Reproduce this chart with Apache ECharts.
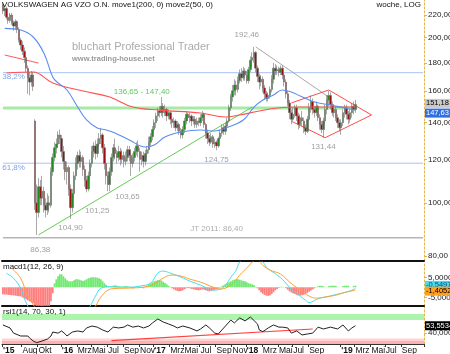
<!DOCTYPE html>
<html lang="de">
<head>
<meta charset="UTF-8">
<title>Volkswagen Vz - Wochenchart</title>
<script src="https://cdn.jsdelivr.net/npm/echarts@6.0.0/dist/echarts.min.js"></script>
<style>
  html, body { margin: 0; padding: 0; background: #fff; }
  #chart { width: 450px; height: 354px; }
</style>
</head>
<body>
<div id="chart"></div>
<script>
// Wochenkerzen ab Montag 18.05.2015
const startDay = Date.UTC(2015, 4, 18);
const weekCount = 237;
const monthNames = ['Jan','Feb','Mrz','Apr','Mai','Jun','Jul','Aug','Sep','Okt','Nov','Dez'];
const tickMonths = ['2015-05','2015-08','2015-10','2016-01','2016-03','2016-05','2016-07','2016-09','2016-11',
  '2017-01','2017-03','2017-05','2017-07','2017-09','2017-11','2018-01','2018-03','2018-05','2018-07','2018-09',
  '2019-01','2019-03','2019-05','2019-07','2019-09'];
const priceTicks = [80, 100, 120, 140, 160, 180, 200, 220];
const macdTicks = [-5, 5];
const rsiTicks = [40];

// [open, close, low, high]
const candles = [
[230,224,221,232],[224,226,219,229],[226,218,216,228],[218,215,212,221],[215,220,213,222],
[220,213,211,222],[213,210,206,215],[210,214,207,216],[214,207,204,215],[207,198,196,209],
[198,194,190,200],[194,189,186,197],[189,184,180,192],[184,176,173,186],[176,169,158,178],
[169,166,157,173],[166,171,163,174],[171,163,160,173],[141,100,97,142],[100,96,87.4,108],
[96,107,94,111],[107,102,99,110],[102,105,99,112],[105,99,96,107],[99,97,94,102],
[97,100,95,104],[100,99,96,103],[99,114,98,116],[114,121,112,123],[121,126,119,129],
[126,128,123,131],[128,133,126,135],[133,131,128,136],[131,124,121,133],[124,119,115,127],
[119,114,110,121],[114,116,108,119],[116,106,103,117],[106,98,93.5,108],[98,104,96,106],
[104,112,102,114],[112,118,110,121],[118,122,115,124],[122,119,116,125],[119,121,116,124],
[121,115,112,122],[115,110,107,117],[110,106,104.5,112],[106,112,105,114],[112,118,110,120],
[118,124,116,127],[124,127,121,129],[127,123,120,130],[123,128,121,131],[128,131,126,134],
[131,133,128,137],[133,126,123,134],[126,118,115,128],[118,112,108,120],[112,108,105,114],
[108,114,105,116],[114,121,112,123],[121,126,119,128],[126,123,120,131],[123,121,118,125],
[121,124,119,127],[124,120,117,126],[120,122,118,125],[122,119,116,124],[119,121,117,124],
[121,125,119,127],[125,122,119,127],[122,118,112,123],[118,121,116,123],[121,124,119,126],
[124,127,122,129],[127,124,121,130],[124,120,114,126],[120,122,117,124],[122,119,116,124],
[119,123,117,125],[123,125,121,127],[125,129,123,132],[129,132,127,134],[132,136,130,138],
[136,140,134,142],[140,144,137,146],[144,147,141,149],[147,146,143,150],[146,150,144,156],
[150,146,143,152],[146,148,144,151],[148,144,141,149],[144,146,142,148],[146,142,139,147],
[142,140,137,144],[140,141,137,143],[141,137,135,142],[137,139,135,141],[139,135,133,140],
[135,133,131,137],[133,136,131,138],[136,141,134,143],[141,145,139,147],[145,143,141,146],
[143,144,140,146],[144,141,138,145],[141,142,139,144],[142,139,137,144],[139,141,137,143],
[141,140,138,143],[140,143,138,145],[143,145,141,147],[145,139,137,146],[139,134,131,140],
[134,131,128,136],[131,129,127,133],[129,132,128,134],[132,128,126,133],[128,129,126,131],
[129,127,124.75,130],[127,131,126,132],[131,134,130,136],[134,137,132,139],[137,135,133,139],
[135,138,133,140],[138,141,136,143],[141,149,140,151],[149,156,147,158],[156,160,153,164],
[160,164,157,168],[164,161,157,167],[161,167,159,170],[167,172,165,175],[172,169,166,176],
[169,174,167,177],[174,171,167,176],[171,167,165,174],[167,175,165,177],[175,182,173,185],
[182,184,177,188],[184,188,180,192.46],[188,176,173,189],[176,170,166,178],[170,166,161,172],
[166,168,163,171],[168,162,159,170],[162,158,154,164],[158,155,153,160],[155,157,153,159],
[157,161,155,163],[161,168,159,171],[168,176,165,180],[176,174,171,179],[174,175,171,178],
[175,173,170,177],[173,176,171,178],[176,171,168,178],[171,166,163,173],[166,158,155,168],
[158,152,150,160],[152,146,142,154],[146,142,139,148],[142,145,140,149],[145,149,143,151],
[149,144,141,151],[144,139,136,146],[139,143,137,145],[143,141,138,147],[141,137,134,143],
[137,135,133,139],[135,142,134,144],[142,149,141,152],[149,153,146,157],[153,148,145,155],
[148,146,143,150],[146,150,144,153],[150,143,141,151],[143,139,136,145],[139,136,134,141],
[136,141,131.44,143],[141,148,139,151],[148,154,145,157],[154,157,150,160],[157,151,148,159],
[151,146,144,153],[146,148,143,151],[148,143,141,150],[143,140,137,145],[140,137,135,142],
[137,140,133,142],[140,146,138,148],[146,149,143,151],[149,145,142,151],[145,142,139,147],
[142,146,140,148],[146,150,143,152],[150,148,145,153],[148,151.18,146,154]
];

const ma200 = [[2,172.5],[17,173.2],[28,165.4],[45,159.9],[60,155.9],[73,149.5],[88,147.6],[111,145.8],
  [125,143.4],[133,144.6],[144,147],[154,148.9],[167,149.5],[184,149.5],[198,149.5]];
const ma50 = [[1,208],[10,206.6],[17,200.6],[23,187.6],[28,169.6],[31,165.4],[36,160.6],[42,149.5],[47,141.6],
  [53,136.9],[58,135.8],[63,134.1],[71,130.2],[80,126.4],[85,127.5],[91,131.8],[100,134.6],[111,135.8],
  [119,135.2],[125,136.9],[135,141.6],[141,149.5],[146,154],[152,157.3],[157,160.6],[162,159.2],
  [167,156.6],[175,152.7],[184,150.8],[192,148.9],[198,147.6]];

// Linien und Marken im Kurschart
const fib382 = 172.7, fib618 = 118.1, zoneLevel = 148.9, lowLevel = 86.38;
const supportLine = [[20.3,87.4],[140,149.5]];
const resistLine = [[141.6,192.46],[183.2,155.9]];
const diamond = [[162.4,152.1],[183.2,160.6],[206.8,144.6],[180.9,131.44],[163,140.4]];
const shortRed = [[1.2,186],[19.7,179.8]];
const notes = [
  [137,202.2,'192,46','#888'],[77.6,159.2,'136,65 - 147,40','#33bb33'],[119.7,119.7,'124,75','#888'],
  [180.4,126.4,'131,44','#888'],[38.2,90,'104,90','#888'],[53.4,96.6,'101,25','#888'],
  [69.7,102.5,'103,65','#888'],[21.4,82,'86,38','#888'],[120.3,89.6,'JT 2011: 86,40','#999'],
  [6.2,169.6,'38,2%','#5a8ae6'],[6.2,115.7,'61,8%','#5a8ae6']
];

// MACD Histogramm je Woche
const macdHist = [
-3.5,-3.6,-3.6,-3.8,-3.8,-4,-4,-4.2,-4.3,-4.5,-4.5,-5,-5.5,-6,-6.5,-7,-7.5,-8,-9,-9.3,
-9.3,-9.3,-9.3,-9.3,-9.3,-9.3,-9.3,-7,-3,2,4,5.5,6.5,6.5,5.5,4.5,3.5,3,3,3,
3.5,4,4,3.8,3.5,3.2,3.5,4,4.5,4.8,5,5,5,4.8,4.5,4,3,2,1.2,0.5,
0.2,0.3,0.8,1,0.8,0.6,0.4,0.2,0.5,0.7,0.5,0.2,-0.3,-0.5,-0.2,0.3,0.5,0.3,-0.3,-0.5,
0.3,0.8,1.5,2,2.5,3,3.3,3.6,3.7,3.4,2.8,2.2,1.5,0.8,0.2,-0.5,-1,-1.5,-1.8,-2,
-1.8,-1.5,-1,-0.5,-0.3,-0.5,-0.8,-1,-1.2,-1.4,-1.5,-1.3,-1,-1.2,-1.5,-1.8,-2,-1.8,-1.5,-1.2,
-1,-0.6,-0.2,0.5,1,1.5,2,2.5,3,3.5,3.8,4,4,3.8,3.5,3.2,3,2.5,2,1.8,
1.5,1,0.3,-0.5,-1.5,-2.5,-3.2,-3.8,-4.2,-4.3,-4,-3.3,-2.5,-1.5,-0.8,-0.3,0.2,0.3,0.1,-0.5,
-1.2,-2,-2.6,-3,-3.4,-3.8,-4,-4.1,-4,-3.7,-3.2,-2.8,-2.2,-1.6,-1,-0.5,-0.1,0.5,0.8,0.8,
0.6,0,0,0.6,0.8,0.8,0.8,0.7,0,0,0,0.6,0.8,0.8,0.8,0,0,0.7,0.8
];
const macdLine = [[2,7],[6,4.5],[10,-0.5],[12,-5.5],[14,-9.4],[16,-14],[25,-20],[35,-20],[44,-15],[49,-9.4],
  [52,-4.4],[55,-0.5],[60,0.3],[66,0.1],[71,0.1],[77,0.6],[83,2.1],[87,7.1],[90,8.1],[94,7.1],[100,5.1],
  [105,3.1],[111,1.1],[118,-1.4],[122,-0.9],[125,1.1],[128,5],[131,8.6],[133,12.6],[137,15],[142,15],
  [146,12.6],[148,10],[150,8.6],[155,5.5],[158,3],[161,0],[164,-2.4],[167,-4.4],[170,-6.5],[172,-7.7],
  [175,-6.6],[178,-5.4],[182,-4.7],[190,-3],[195,-1.8],[198,-0.55]];
const signalLine = [[5,9.5],[10,4.5],[13,-2.2],[16,-7.2],[18,-10],[22,-15],[35,-20],[45,-17],[52,-9.4],
  [55,-4.9],[59,-1.4],[63,-0.6],[71,-0.4],[80,0.2],[85,1.6],[91,5.1],[95,6.1],[100,5.6],[105,4.1],
  [111,2.6],[118,0.1],[122,-0.9],[128,1.1],[133,6.1],[138,10.6],[140,12.6],[143,14],[146,11],[150,8.6],
  [156,6.6],[161,2.6],[167,-1.4],[172,-4.4],[176,-5.4],[181,-4.9],[187,-3.9],[192,-2.6],[198,-1.4052]];

// RSI
const rsiLine = [[0,55],[4,49.5],[6,40],[10,34.7],[14,34.7],[15,31],[17,25.5],[19,22.4],[22,25.5],[25,29],
  [27,34.7],[28,42],[31,40],[33,44],[35,38.4],[36,34.7],[39,42],[42,44],[45,42],[47,49.5],[50,53],[53,51],
  [56,45.8],[59,42],[62,51],[65,49.5],[68,51],[70,55],[73,51],[76,53],[79,49.5],[82,53],[84,58.7],[87,66],
  [90,60.5],[93,56.8],[96,53],[98,49.5],[101,53],[105,49.5],[109,44],[111,47.6],[114,55],[116,49.5],
  [119,40],[121,38.4],[123,45.8],[125,53],[128,64],[130,58.7],[133,68],[136,62.4],[139,69.7],[140,70.3],
  [143,56.8],[144,45.8],[146,42.7],[149,49.5],[152,55],[155,51],[157,51],[160,49.5],[162,40],[165,44],
  [168,36.6],[171,38.4],[174,40],[177,51],[180,47.6],[184,51],[188,47.6],[191,55],[194,44],[196,49.5],
  [198,53.5534]];
const rsiTrend = [[61.1,26.1],[174.4,47.6]];

const weekDates = [];
for (let i = 0; i < weekCount; i++) {
  weekDates.push(new Date(startDay + i * 7 * 864e5).toISOString().slice(0, 10));
}
const tickIdx = new Set();
const seen = {};
weekDates.forEach((d, i) => {
  const m = d.slice(0, 7);
  if (tickMonths.includes(m) && !seen[m]) { seen[m] = true; tickIdx.add(i); }
});
const showTick = (i) => tickIdx.has(i);

const FONT = '"Liberation Sans Narrow", "Liberation Sans", sans-serif';
const fmt = (v, n) => v.toFixed(n).replace('.', ',');

const chart = echarts.init(document.getElementById('chart'), null, { renderer: 'canvas' });

const grids = [
  { left: 2, right: 26, top: 0, height: 261 },
  { left: 2, right: 26, top: 262, height: 44 },
  { left: 2, right: 26, top: 307, height: 37 }
].map(g => Object.assign(g, { containLabel: false, outerBoundsMode: 'none' }));

const sepLine = { show: true, onZero: false, lineStyle: { color: '#111', width: 2 } };
const xAxes = [0, 1, 2].map(gi => ({
  type: 'category', gridIndex: gi, data: weekDates, boundaryGap: true,
  axisLine: gi === 2 ? { show: true, onZero: false, lineStyle: { color: '#333', width: 1 } } : sepLine,
  axisTick: gi === 2 ? { show: true, interval: showTick, length: 3, lineStyle: { color: '#333' } } : { show: false },
  axisLabel: gi === 2 ? {
    show: true, interval: showTick, align: 'left', margin: 2, fontSize: 8.5, fontFamily: FONT, color: '#111',
    formatter: (v, idx) => {
      const m = +v.slice(5, 7);
      return (m === 1 || idx === 0) ? '{y|\'' + v.slice(2, 4) + '}' : monthNames[m - 1];
    },
    rich: { y: { fontWeight: 'bold', fontSize: 8.5, fontFamily: FONT, color: '#111' } }
  } : { show: false },
  splitLine: { show: false }
}));

const yLine = { show: true, lineStyle: { color: '#e2b54a', type: [2, 2], width: 1 } };
const yLabel = { fontSize: 8, fontFamily: FONT, color: '#222', margin: 4 };
const yAxes = [
  { type: 'log', logBase: 10, gridIndex: 0, position: 'right', min: 78.34, max: 234.3,
    axisLine: yLine, axisTick: { show: true, customValues: priceTicks, length: 3, lineStyle: { color: '#e2b54a' } },
    axisLabel: Object.assign({ customValues: priceTicks, formatter: v => fmt(v, 2) }, yLabel),
    splitLine: { show: false } },
  { type: 'value', gridIndex: 1, position: 'right', min: -9.35, max: 12.65,
    axisLine: yLine, axisTick: { show: true, customValues: macdTicks, length: 3, lineStyle: { color: '#e2b54a' } },
    axisLabel: Object.assign({ customValues: macdTicks, formatter: v => fmt(v, 4) }, yLabel),
    splitLine: { show: false } },
  { type: 'value', gridIndex: 2, position: 'right', min: 20, max: 88,
    axisLine: yLine, axisTick: { show: true, customValues: rsiTicks, length: 3, lineStyle: { color: '#e2b54a' } },
    axisLabel: Object.assign({ customValues: rsiTicks, formatter: v => fmt(v, 4) }, yLabel),
    splitLine: { show: false } }
];

function seg(data, color, width, z, extra) {
  return Object.assign({
    type: 'line', xAxisIndex: 0, yAxisIndex: 0, data: data, symbol: 'none', silent: true,
    lineStyle: { color: color, width: width }, z: z, animation: false
  }, extra || {});
}

function tag(value, text, bg, color, offset) {
  return {
    yAxis: value, symbol: 'none',
    lineStyle: { color: 'rgba(0,0,0,0)', width: 0 },
    label: { show: true, position: 'end', distance: 1, formatter: text, backgroundColor: bg, color: color,
      fontSize: 7.5, fontFamily: FONT, padding: [1, 1, 0, 1], offset: offset || [0, 0] }
  };
}

const last = candles[candles.length - 1];

const series = [
  seg([[0, fib382], [weekCount - 1, fib382]], '#a9c3f5', 1, 1),
  seg([[0, fib618], [weekCount - 1, fib618]], '#a9c3f5', 1, 1),
  seg([[0, zoneLevel], [199, zoneLevel]], '#a6eaa6', 3, 1),
  seg([[0, lowLevel], [weekCount - 1, lowLevel]], '#b5b5b5', 1.5, 1),
  seg(supportLine, '#66cc55', 1, 2),
  seg(resistLine, '#a8a8a8', 1, 2),
  seg(diamond, '#ff4a4a', 1, 2),
  seg(shortRed, '#ff5a5a', 1, 2),
  {
    type: 'candlestick', xAxisIndex: 0, yAxisIndex: 0, data: candles, barWidth: 2, z: 3,
    itemStyle: { color: '#1f8a1f', color0: '#9a1010', borderColor: '#6e6e6e', borderColor0: '#6e6e6e', borderWidth: 0.6 },
    markLine: { silent: true, animation: false, symbol: 'none',
      data: [tag(ma50[ma50.length - 1][1], '147,63', '#2f6fe0', '#fff', [0, 3]),
             tag(last[1], fmt(last[1], 2), '#c9c9c9', '#000', [0, -1])] }
  },
  seg(ma200, '#ff5050', 1.1, 4, { smooth: 0.4 }),
  seg(ma50, '#5b8cf0', 1.1, 4, { smooth: 0.4 }),
  {
    type: 'scatter', xAxisIndex: 0, yAxisIndex: 0, symbolSize: 0, silent: true, z: 6,
    data: notes.map(n => ({ value: [n[0], n[1]], label: { color: n[3] }, name: n[2] })),
    label: { show: true, position: 'inside', fontSize: 8, fontFamily: FONT, formatter: p => p.name }
  },
  {
    type: 'bar', xAxisIndex: 1, yAxisIndex: 1, data: macdHist, barCategoryGap: '0%', silent: true,
    itemStyle: { color: p => p.value >= 0 ? '#72e872' : '#ff7f7f' }
  },
  {
    type: 'line', xAxisIndex: 1, yAxisIndex: 1, data: macdLine, symbol: 'none', smooth: 0.4, clip: true,
    lineStyle: { color: '#3fe0ee', width: 1 }, z: 4,
    markLine: { silent: true, animation: false, symbol: 'none', data: [tag(-0.5497, '-0,5497', '#3fe0ee', '#1a3a8a', [0, -3])] }
  },
  {
    type: 'line', xAxisIndex: 1, yAxisIndex: 1, data: signalLine, symbol: 'none', smooth: 0.4, clip: true,
    lineStyle: { color: '#ffa030', width: 1 }, z: 5,
    markLine: { silent: true, animation: false, symbol: 'none', data: [tag(-1.4052, '-1,4052', '#ffa020', '#000', [0, 1])] }
  },
  {
    type: 'line', xAxisIndex: 2, yAxisIndex: 2, data: rsiLine, symbol: 'none', clip: true,
    lineStyle: { color: '#222', width: 1 }, z: 4,
    markArea: { silent: true, data: [
      [{ yAxis: 64, itemStyle: { color: '#adf5ad' } }, { yAxis: 75 }],
      [{ yAxis: 26, itemStyle: { color: '#ffd3d3' } }, { yAxis: 30 }],
      [{ yAxis: 20, itemStyle: { color: '#ffb0b0' } }, { yAxis: 26 }]
    ] },
    markLine: { silent: true, animation: false, symbol: 'none', data: [tag(53.5534, '53,5534', '#000', '#fff')] }
  },
  {
    type: 'line', xAxisIndex: 2, yAxisIndex: 2, data: rsiTrend, symbol: 'none', silent: true,
    lineStyle: { color: '#ff4040', width: 1.2 }, z: 3
  }
];

chart.setOption({
  animation: false,
  backgroundColor: '#fff',
  grid: grids,
  xAxis: xAxes,
  yAxis: yAxes,
  series: series,
  graphic: [
    { type: 'text', left: 2, top: 1, z: 10, style: { text: 'VOLKSWAGEN AG VZO O.N. move1(200, 0) move2(50, 0)', fill: '#111', font: '8px ' + FONT } },
    { type: 'text', right: 29, top: 1, z: 10, style: { text: 'woche, LOG', fill: '#111', font: '8px ' + FONT } },
    { type: 'text', left: 72, top: 41, z: 0, style: { text: 'bluchart Professional Trader', fill: '#ababab', font: '11px "Liberation Sans", sans-serif' } },
    { type: 'text', left: 72, top: 55, z: 0, style: { text: 'www.trading-house.net', fill: '#9a9a9a', font: 'bold 7.5px "Liberation Sans", sans-serif' } },
    { type: 'text', left: 3, top: 263, z: 10, style: { text: 'macd1(12, 26, 9)', fill: '#111', font: '8px ' + FONT } },
    { type: 'text', left: 3, top: 308, z: 10, style: { text: 'rsi1(14, 70, 30, 1)', fill: '#111', font: '8px ' + FONT } }
  ]
});
</script>
</body>
</html>
